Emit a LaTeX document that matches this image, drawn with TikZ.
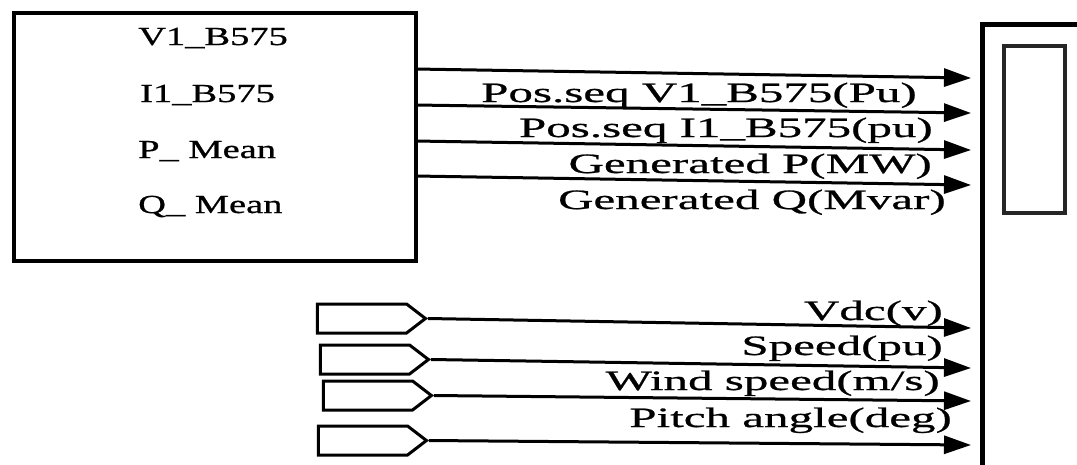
\documentclass[tikz,border=0pt]{standalone}
\usepackage{fontspec}
\setmainfont{Liberation Serif}
\newfontfamily\labfont[FakeStretch=1.75,FakeBold=0.8]{Liberation Serif}
\newfontfamily\boxfont[FakeStretch=1.48,FakeBold=0.8]{Liberation Serif}
\usetikzlibrary{arrows.meta,shapes.symbols}
\begin{document}
\begin{tikzpicture}[x=1pt,y=-1pt,
  sig/.style={line width=3pt, -{Triangle[length=27pt,width=18pt]}},
  lab/.style={inner sep=0pt, font=\labfont\fontsize{28}{30}\selectfont, anchor=base east},
  boxtxt/.style={inner sep=0pt, font=\boxfont\fontsize{26}{28}\selectfont, anchor=base west},
  port/.style={draw, line width=3pt, signal, signal to=east, signal pointer angle=75,
               minimum width=108pt, minimum height=29pt, inner sep=0pt}]
\useasboundingbox (0,0) rectangle (1077,464);
\clip (0,0) rectangle (1077,464);
\fill[white] (0,0) rectangle (1077,464);

% measurement block
\node[draw, line width=4pt, minimum width=402pt, minimum height=248pt, anchor=north west, inner sep=0pt] (meas) at (12,11) {};
\node[boxtxt] (t1) at (138,45) {V1\_B575};
\node[boxtxt] (t2) at (140,102) {I1\_B575};
\node[boxtxt] (t3) at (138,158) {P\_ Mean};
\node[boxtxt] (t4) at (138,213) {Q\_ Mean};

% right block (partly outside)
\node[draw, line width=4.5pt, minimum width=200pt, minimum height=500pt, anchor=north west, inner sep=0pt] (bus) at (980,22) {};
\node[draw=black!85, line width=3.5pt, minimum width=61pt, minimum height=167pt, anchor=north west, inner sep=0pt] (disp) at (1002,44) {};

% top connectors
\coordinate (o1) at (415,69);  \coordinate (e1) at (971,78);
\coordinate (o2) at (415,105); \coordinate (e2) at (971,113);
\coordinate (o3) at (415,141); \coordinate (e3) at (971,150);
\coordinate (o4) at (415,176); \coordinate (e4) at (971,185);
\draw[sig] (o1) -- (e1);
\draw[sig] (o2) -- (e2);
\draw[sig] (o3) -- (e3);
\draw[sig] (o4) -- (e4);
\node[lab] (l1) at (917,102) {Pos.seq V1\_B575(Pu)};
\node[lab] (l2) at (933,137) {Pos.seq I1\_B575(pu)};
\node[lab] (l3) at (932,173) {Generated P(MW)};
\node[lab] (l4) at (946,209) {Generated Q(Mvar)};

% input ports
\node[port] (p1) at (362,318.5) {};
\node[port] (p2) at (365,359.5) {};
\node[port] (p3) at (368,395.5) {};
\node[port] (p4) at (363,440.5) {};
\coordinate (e5) at (971,328);
\coordinate (e6) at (971,368);
\coordinate (e7) at (971,401);
\coordinate (e8) at (971,445);
\draw[sig] (p1.east) -- (e5);
\draw[sig] (p2.east) -- (e6);
\draw[sig] (p3.east) -- (e7);
\draw[sig] (p4.east) -- (e8);
\node[lab] (l5) at (943,320) {Vdc(v)};
\node[lab] (l6) at (943,355) {Speed(pu)};
\node[lab] (l7) at (940,390) {Wind speed(m/s)};
\node[lab] (l8) at (952,427) {Pitch angle(deg)};
\end{tikzpicture}
\end{document}
